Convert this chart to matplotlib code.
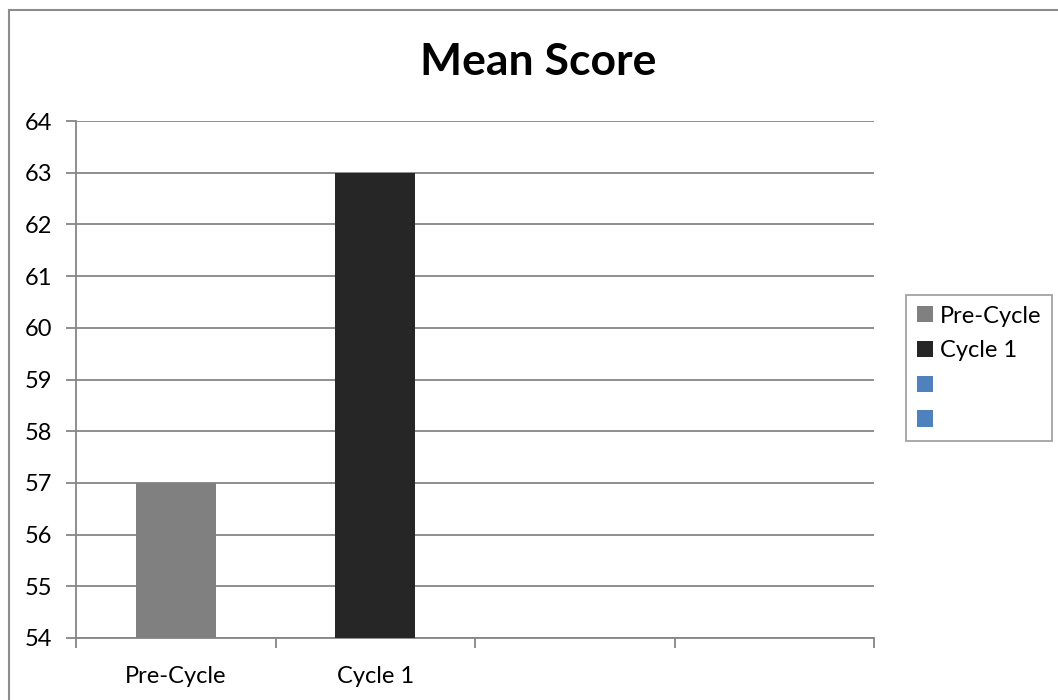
import matplotlib
matplotlib.use('Agg')
import matplotlib.pyplot as plt
from matplotlib.patches import Patch, Rectangle

# Chart data
categories = ['Pre-Cycle', 'Cycle 1', '', '']
scores = [57, 63]
bar_colors = ['#808080', '#262626']
legend_labels = ['Pre-Cycle', 'Cycle 1', '', '']
legend_colors = ['#808080', '#262626', '#4F81BD', '#4F81BD']
y_ticks = list(range(54, 65))

plt.rcParams['font.family'] = ['Lato', 'DejaVu Sans']
GRID = '#868686'

fig = plt.figure(figsize=(10.58, 7.0), dpi=100)
ax = fig.add_axes([76 / 1058, 1 - 638 / 700, (874 - 76) / 1058, (638 - 121) / 700])

# outer chart border
fig.patches.append(Rectangle((8.5 / 1058, -0.05), 1.2, 1 - 9.5 / 700 + 0.05,
                             transform=fig.transFigure, fill=False,
                             edgecolor='#8c8c8c', linewidth=1.5))

x = list(range(len(scores)))
ax.bar(x, scores, width=0.4, color=bar_colors, zorder=3)

ax.set_xlim(-0.5, len(categories) - 0.5)
ax.set_ylim(54, 64)
ax.set_yticks(y_ticks)
ax.set_yticklabels([str(t) for t in y_ticks], fontsize=17)
ax.yaxis.grid(True, color=GRID, linewidth=1.3, zorder=2)
ax.set_axisbelow(False)

# category boundary ticks on the x axis, labels centred under each slot
ax.set_xticks([i - 0.5 for i in range(len(categories) + 1)])
ax.set_xticklabels([])
ax.set_xticks(range(len(categories)), minor=True)
ax.set_xticklabels(categories, minor=True, fontsize=17)
ax.tick_params(axis='x', which='minor', length=0, pad=20)
ax.tick_params(axis='x', which='major', length=7, width=1.3, color=GRID)
ax.tick_params(axis='y', length=7, width=1.3, color=GRID, pad=10)

for side in ['top', 'right']:
    ax.spines[side].set_visible(False)
for side in ['left', 'bottom']:
    ax.spines[side].set_color(GRID)
    ax.spines[side].set_linewidth(1.3)

fig.text(538 / 1058, 1 - 62 / 700, 'Mean Score', fontsize=32, fontweight='bold',
         ha='center', va='center')

handles = [Patch(facecolor=c, edgecolor='none') for c in legend_colors]
leg = fig.legend(handles, legend_labels, loc='upper left',
                 bbox_to_anchor=(906 / 1058, 1 - 295 / 700),
                 fontsize=17, frameon=True, fancybox=False,
                 handlelength=0.68, handleheight=0.68, handletextpad=0.3,
                 labelspacing=0.58, borderpad=0.45, borderaxespad=0)
leg.get_frame().set_edgecolor('#8c8c8c')
leg.get_frame().set_linewidth(1.3)

fig.savefig('out.png', dpi=100)
